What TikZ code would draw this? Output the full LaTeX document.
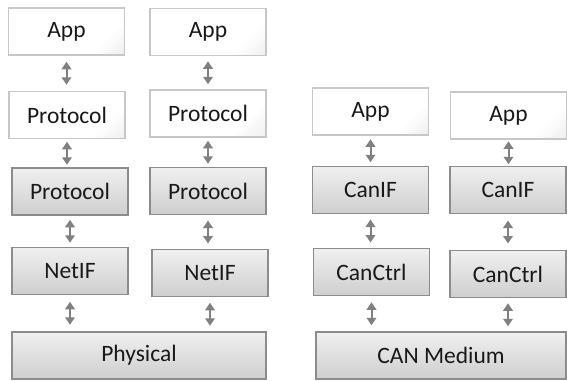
\documentclass[tikz,border=0pt]{standalone}
\usepackage{fontspec}
\setmainfont{Carlito}
\usetikzlibrary{calc,arrows.meta}

% faint grey glow in the lower right corner of the upper layers
\pgfdeclareverticalshading{cornerglow}{100bp}{color(0bp)=(black!13); color(30bp)=(white); color(100bp)=(white)}

% short double-headed arrow centred in the gap between two stacked layers
\newcommand\stacklink[2]{%
  \coordinate (mid-#1-#2) at ($(#1.south)!0.5!(#1.south |- #2.north)$);
  \draw[link] ([yshift=11.5pt]mid-#1-#2) -- ([yshift=-11.5pt]mid-#1-#2);}

\begin{document}
\begin{tikzpicture}[x=1pt,y=-1pt,
  layer/.style={rectangle, minimum width=116pt, minimum height=47pt, inner sep=0pt,
    font=\fontsize{23.5}{26}\selectfont, text=black!90, line width=1.6pt},
  upper/.style={layer, draw=black!22, shade, shading=cornerglow, shading angle=45},
  lower/.style={layer, draw=black!45, top color=black!6, bottom color=black!19},
  link/.style={draw=black!50, line width=2pt,
    {Triangle[width=9.5pt,length=7.5pt]}-{Triangle[width=9.5pt,length=7.5pt]}}]
\useasboundingbox (0,0) rectangle (567,380);

% first stack
\node[upper] (app1)  at (66.5,31.5) {App};
\node[upper] (protu1) at (67,115) {Protocol};
\node[lower] (protl1) at (70,191.5) {Protocol};
\node[lower] (net1)  at (70,271) {NetIF};

% second stack
\node[upper] (app2)  at (208,32) {App};
\node[upper] (protu2) at (208,113.5) {Protocol};
\node[lower] (protl2) at (208,191) {Protocol};
\node[lower] (net2)  at (210,273) {NetIF};

\node[lower, minimum width=254pt] (phys) at (139,355.5) {Physical};

% CAN stacks
\node[upper] (app3)  at (370.5,111.5) {App};
\node[lower] (canif3) at (370.5,190) {CanIF};
\node[lower] (ctrl3) at (371.5,272) {CanCtrl};

\node[upper] (app4)  at (508.5,115.5) {App};
\node[lower] (canif4) at (508,190) {CanIF};
\node[lower] (ctrl4) at (508,274) {CanCtrl};

\node[lower, minimum width=250pt] (canbus) at (441,355.5) {CAN Medium};

% links between layers
\stacklink{app1}{protu1}
\stacklink{protu1}{protl1}
\stacklink{protl1}{net1}
\stacklink{net1}{phys}
\stacklink{app2}{protu2}
\stacklink{protu2}{protl2}
\stacklink{protl2}{net2}
\stacklink{net2}{phys}
\stacklink{app3}{canif3}
\stacklink{canif3}{ctrl3}
\stacklink{ctrl3}{canbus}
\stacklink{app4}{canif4}
\stacklink{canif4}{ctrl4}
\stacklink{ctrl4}{canbus}
\end{tikzpicture}
\end{document}
